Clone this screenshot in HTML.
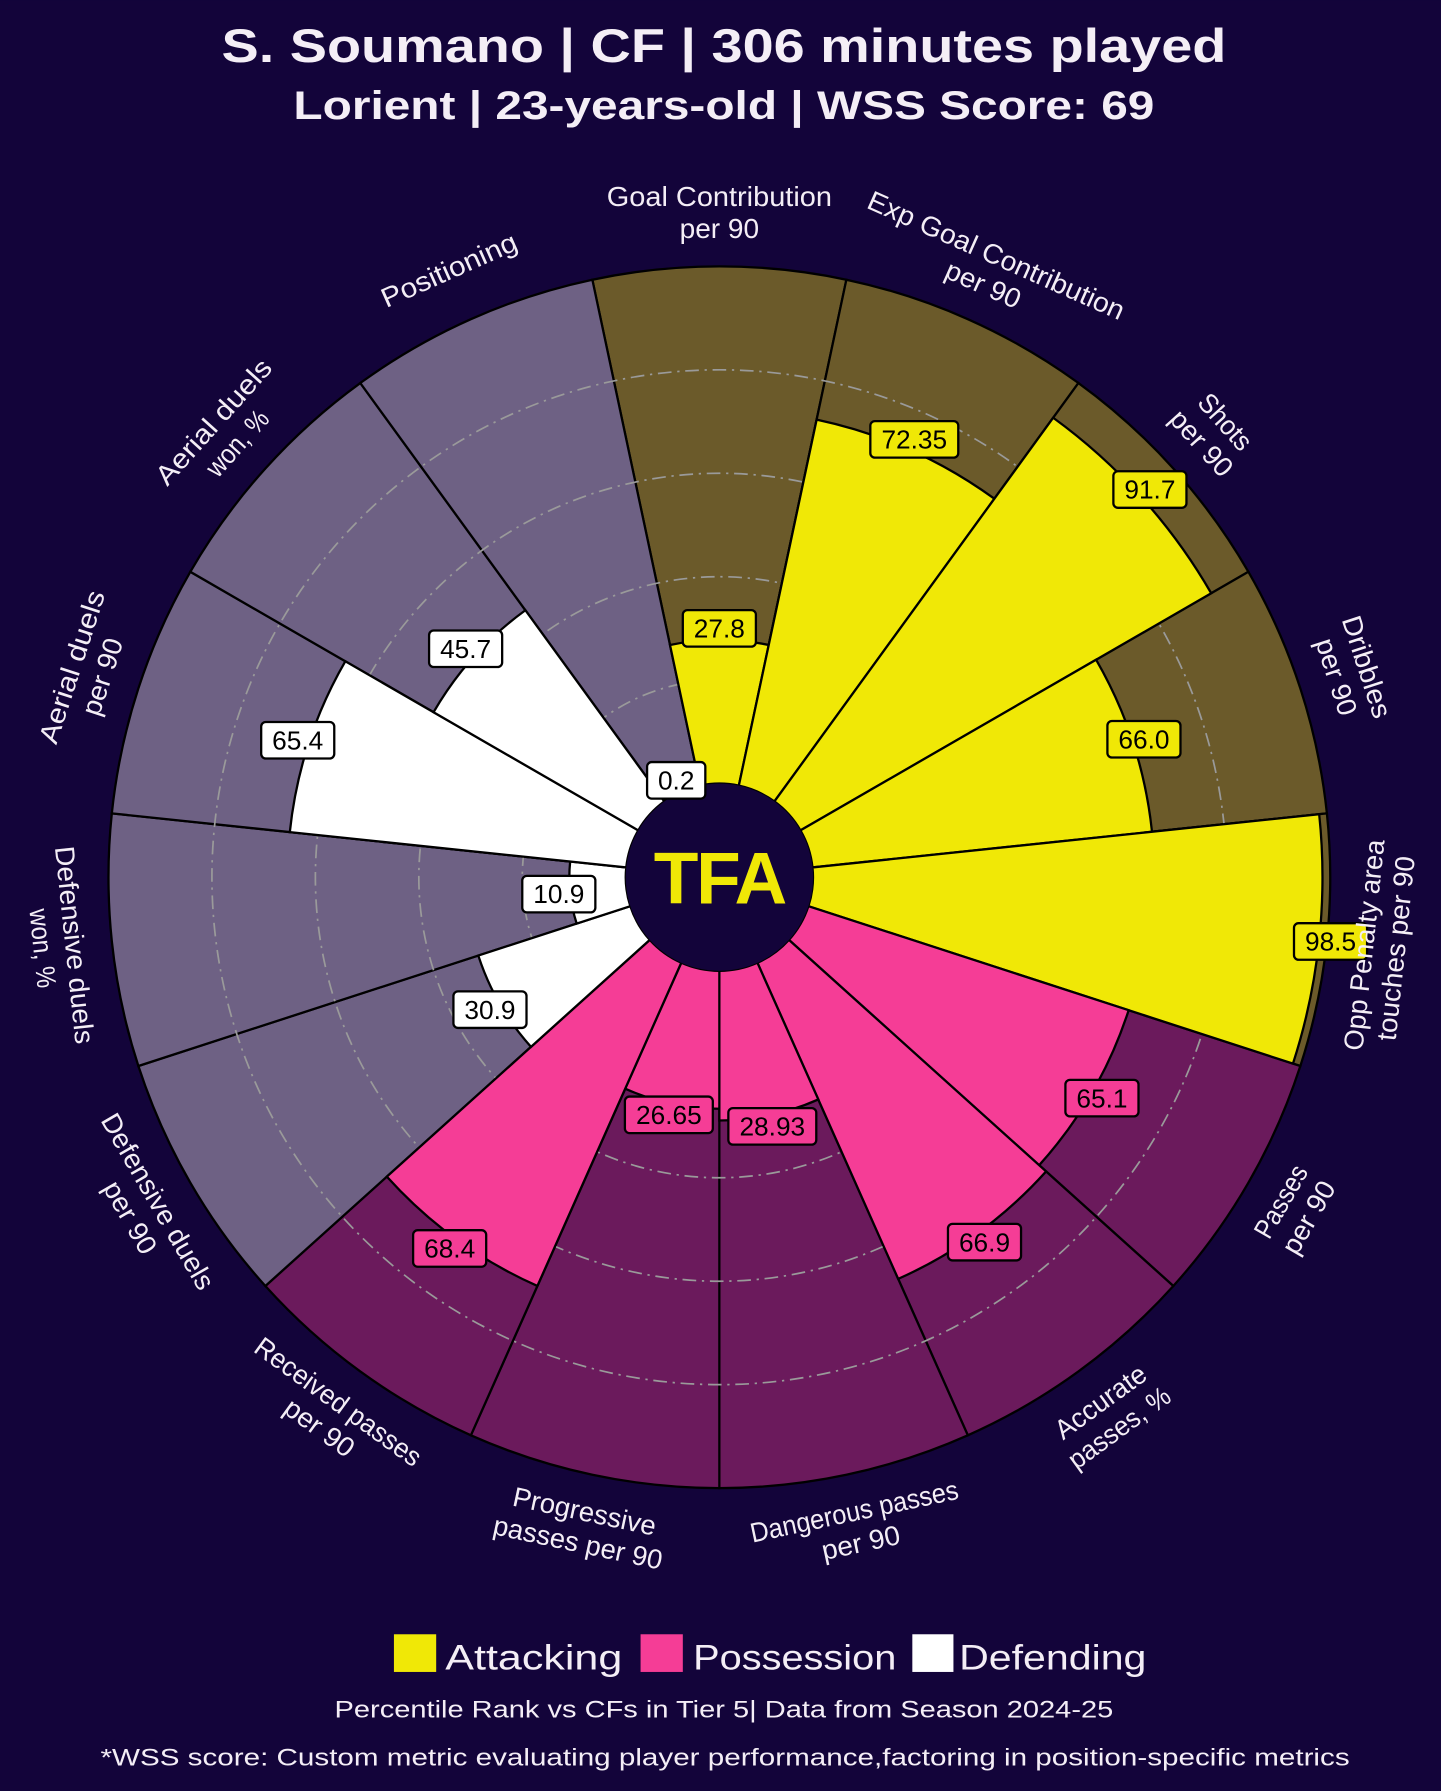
<!DOCTYPE html>
<html><head><meta charset="utf-8">
<style>
html,body{margin:0;padding:0;background:#13043a;}
svg{display:block;}
text{font-family:"Liberation Sans",sans-serif;}
</style></head>
<body>
<svg id="s" width="1441" height="1791" viewBox="0 0 1262 1568" xmlns="http://www.w3.org/2000/svg">
<rect width="1262" height="1568" fill="#13043a"/>
<text x="634" y="54" text-anchor="middle" fill="#f4eef6" font-size="41" font-weight="bold" textLength="880" lengthAdjust="spacingAndGlyphs">S. Soumano | CF | 306 minutes played</text>
<text x="634" y="104" text-anchor="middle" fill="#f4eef6" font-size="35" font-weight="bold" textLength="754" lengthAdjust="spacingAndGlyphs">Lorient | 23-years-old | WSS Score: 69</text>
<g id="chart"></g>
<rect x="345" y="1431" width="37" height="33" fill="#f0e806"/>
<text x="390" y="1462" fill="#f4eef6" font-size="31" textLength="155" lengthAdjust="spacingAndGlyphs">Attacking</text>
<rect x="561" y="1431" width="37" height="33" fill="#f53d96"/>
<text x="607" y="1462" fill="#f4eef6" font-size="31" textLength="178" lengthAdjust="spacingAndGlyphs">Possession</text>
<rect x="799" y="1431" width="36" height="33" fill="#ffffff"/>
<text x="840" y="1462" fill="#f4eef6" font-size="31" textLength="164" lengthAdjust="spacingAndGlyphs">Defending</text>
<text x="634" y="1504" text-anchor="middle" fill="#f4eef6" font-size="21" textLength="682" lengthAdjust="spacingAndGlyphs">Percentile Rank vs CFs in Tier 5| Data from Season 2024-25</text>
<text x="635" y="1546" text-anchor="middle" fill="#f4eef6" font-size="21" textLength="1094" lengthAdjust="spacingAndGlyphs">*WSS score: Custom metric evaluating player performance,factoring in position-specific metrics</text>
</svg>
<script>
var cx=630,cy=768,R=535,r0=82;
var data=[
["Goal Contribution|per 90",27.8,"27.8",0],
["Exp Goal Contribution|per 90",72.35,"72.35",0],
["Shots|per 90",91.7,"91.7",0],
["Dribbles|per 90",66.0,"66.0",0],
["Opp Penalty area|touches per 90",98.5,"98.5",0],
["Passes|per 90",65.1,"65.1",1],
["Accurate|passes, %",66.9,"66.9",1],
["Dangerous passes|per 90",28.93,"28.93",1],
["Progressive|passes per 90",26.65,"26.65",1],
["Received passes|per 90",68.4,"68.4",1],
["Defensive duels|per 90",30.9,"30.9",2],
["Defensive duels|won, %",10.9,"10.9",2],
["Aerial duels|per 90",65.4,"65.4",2],
["Aerial duels|won, %",45.7,"45.7",2],
["Positioning",0.2,"0.2",2]];
var fg=["#f0e806","#f53d96","#ffffff"],bg=["#6b5a2a","#6b1a5c","#6e6184"];
function pt(a,r){var t=a*Math.PI/180;return [cx+r*Math.sin(t),cy-r*Math.cos(t)];}
function wedge(a1,a2,ri,ro){var p1=pt(a1,ri),p2=pt(a1,ro),p3=pt(a2,ro),p4=pt(a2,ri);
return "M"+p1+" L"+p2+" A"+ro+" "+ro+" 0 0 1 "+p3+" L"+p4+" A"+ri+" "+ri+" 0 0 0 "+p1+"Z";}
var h="";
data.forEach(function(d,i){var a=i*24;h+='<path d="'+wedge(a-12,a+12,r0,R)+'" fill="'+bg[d[3]]+'" stroke="#000" stroke-width="2"/>';});
[20,40,60,80].forEach(function(v){var r=r0+(R-r0)*v/100;h+='<circle cx="'+cx+'" cy="'+cy+'" r="'+r+'" fill="none" stroke="#9a9a9a" stroke-width="1.5" stroke-dasharray="12,5,2,5"/>';});
data.forEach(function(d,i){var a=i*24,r=r0+(R-r0)*d[1]/100;h+='<path d="'+wedge(a-12,a+12,r0,r)+'" fill="'+fg[d[3]]+'" stroke="#000" stroke-width="2"/>';});
h+='<circle cx="'+cx+'" cy="'+cy+'" r="'+r0+'" fill="#13043a"/>';
h+='<text x="'+cx+'" y="'+(cy+23)+'" text-anchor="middle" fill="#f0e806" font-size="64" font-weight="bold" letter-spacing="-2">TFA</text>';
data.forEach(function(d,i){var a=i*24,r=r0+(R-r0)*d[1]/100+10;var p=pt(a,r);var w=d[2].length*13+12;
h+='<rect x="'+(p[0]-w/2)+'" y="'+(p[1]-16)+'" width="'+w+'" height="32" rx="4" fill="'+fg[d[3]]+'" stroke="#000" stroke-width="2"/>';
h+='<text x="'+p[0]+'" y="'+(p[1]+8)+'" text-anchor="middle" fill="#000" font-size="23">'+d[2]+'</text>';});
data.forEach(function(d,i){var a=i*24,p=pt(a,582);var rot=(a>90&&a<270)?a-180:(a>180?a-360:a);
var lines=d[0].split("|");var n=lines.length;var y0=-(n-1)*14+8;
h+='<g transform="translate('+p[0]+','+p[1]+') rotate('+rot+')">';
lines.forEach(function(l,k){h+='<text x="0" y="'+(y0+k*28)+'" text-anchor="middle" fill="#f4eef6" font-size="24" textLength="'+(l.length*11.6)+'" lengthAdjust="spacingAndGlyphs">'+l+'</text>';});
h+='</g>';});
document.getElementById("chart").innerHTML=h;
</script>
</body></html>
